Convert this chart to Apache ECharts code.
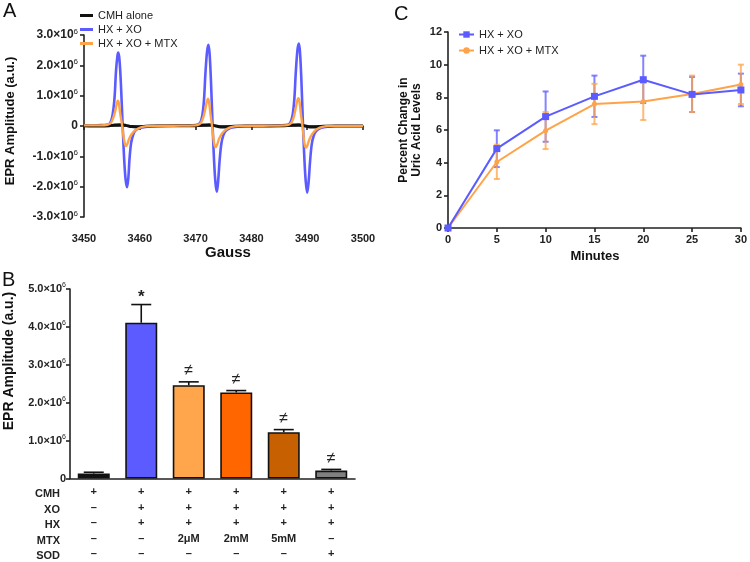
<!DOCTYPE html>
<html><head><meta charset="utf-8">
<script src="https://cdn.jsdelivr.net/npm/echarts@6/dist/echarts.min.js"></script>
<style>html,body{margin:0;padding:0;background:#fff}#c{width:750px;height:562px}</style>
</head><body><div id="c"></div>
<script>
const FONT = '"Liberation Sans", Arial, Helvetica, sans-serif';

// ---------- Panel A: EPR spectra (amplitude in units of 10^6 a.u.) ----------
const specBlue = [
 [3450,0.02],[3451.5,0.01],[3453,0.03],[3454,0.04],[3454.6,0.08],[3455.0,0.25],[3455.3,0.6],[3455.5,1.0],[3455.75,1.85],[3456.0,2.32],[3456.15,2.42],[3456.35,2.2],[3456.6,1.45],[3456.93,0],[3457.2,-1.1],[3457.45,-1.75],[3457.71,-2.02],[3457.95,-1.7],[3458.15,-1.1],[3458.45,-0.55],[3458.8,-0.3],[3459.2,-0.15],[3460,-0.07],[3461,-0.03],[3463,0.0],
 [3465,0.01],[3468,0.02],[3470,0.03],[3470.8,0.1],[3471.2,0.35],[3471.5,0.85],[3471.75,1.7],[3472.05,2.45],[3472.3,2.68],[3472.5,2.4],[3472.75,1.5],[3473.05,0],[3473.3,-1.1],[3473.55,-1.85],[3473.8,-2.17],[3474.05,-1.8],[3474.3,-1.15],[3474.6,-0.6],[3474.95,-0.32],[3475.4,-0.16],[3476.2,-0.07],[3477.2,-0.03],[3479,0.0],
 [3482,0.01],[3485,0.02],[3486.5,0.04],[3487.0,0.12],[3487.4,0.38],[3487.7,0.9],[3487.95,1.75],[3488.25,2.5],[3488.5,2.72],[3488.7,2.45],[3488.95,1.55],[3489.25,0],[3489.5,-1.1],[3489.75,-1.85],[3490.0,-2.2],[3490.25,-1.85],[3490.5,-1.2],[3490.8,-0.62],[3491.15,-0.33],[3491.6,-0.17],[3492.4,-0.07],[3493.4,-0.03],[3495,0.0],[3500,0.0]
];
const specOrange = [
 [3450,0.02],[3453,0.02],[3454.2,0.04],[3454.8,0.1],[3455.2,0.25],[3455.6,0.5],[3455.85,0.72],[3456.05,0.83],[3456.25,0.75],[3456.5,0.4],[3456.85,0],[3457.1,-0.38],[3457.35,-0.6],[3457.55,-0.66],[3457.8,-0.58],[3458.1,-0.42],[3458.5,-0.28],[3459.0,-0.17],[3459.6,-0.09],[3460.5,-0.03],[3462,0.0],
 [3466,0.01],[3470,0.02],[3470.6,0.05],[3471.0,0.12],[3471.4,0.3],[3471.75,0.58],[3472.0,0.8],[3472.2,0.9],[3472.4,0.8],[3472.65,0.42],[3472.95,0],[3473.2,-0.42],[3473.4,-0.64],[3473.6,-0.7],[3473.85,-0.62],[3474.15,-0.45],[3474.55,-0.3],[3475.05,-0.18],[3475.65,-0.09],[3476.5,-0.03],[3478,0.0],
 [3482,0.01],[3486,0.02],[3486.8,0.05],[3487.2,0.12],[3487.6,0.3],[3487.95,0.6],[3488.2,0.82],[3488.4,0.92],[3488.6,0.82],[3488.85,0.43],[3489.15,0],[3489.4,-0.43],[3489.6,-0.66],[3489.8,-0.72],[3490.05,-0.63],[3490.35,-0.46],[3490.75,-0.31],[3491.25,-0.18],[3491.85,-0.09],[3492.7,-0.03],[3494,0.0],[3500,0.0]
];
const specBlack = [
 [3450,0.01],[3453,0.0],[3454.5,0.01],[3455.5,0.03],[3456.5,0.04],[3457.5,0.02],[3458.5,-0.02],[3459.5,-0.03],[3460.5,-0.02],[3462,0.0],[3470,0.01],[3471.5,0.03],[3472.5,0.04],[3473.5,0.01],[3474.5,-0.03],[3475.5,-0.03],[3477,-0.01],[3479,0.0],[3486,0.01],[3487.5,0.03],[3488.5,0.04],[3489.5,0.01],[3490.5,-0.03],[3491.5,-0.03],[3493,-0.01],[3495,0],[3500,0]
];
const specNames = ['CMH alone','HX + XO','HX + XO + MTX'];

// ---------- Panel B: bar chart (units of 10^6 a.u.) ----------
const bCategories = ['CMH','HX+XO','MTX 2μM','MTX 2mM','MTX 5mM','SOD'];
const bValues = [0.13, 4.11, 2.46, 2.27, 1.22, 0.21];
const bErrTop = [0.165, 4.59, 2.55, 2.32, 1.29, 0.24];
const bMarks = ['', '*', '≠', '≠', '≠', '≠'];
const tableRows = ['CMH','XO','HX','MTX','SOD'];
const tableCMH = ['+','+','+','+','+','+'];
const tableXO  = ['–','+','+','+','+','+'];
const tableHX  = ['–','+','+','+','+','+'];
const tableMTX = ['–','–','2μM','2mM','5mM','–'];
const tableSOD = ['–','–','–','–','–','+'];

// ---------- Panel C: uric acid ----------
const minutes = [0,5,10,15,20,25,30];
const cNames = ['HX + XO ','HX + XO + MTX '];
const cBlue   = [0, 4.86, 6.82, 8.06, 9.08, 8.18, 8.45];
const cBlueLo = [0, 3.73, 5.28, 6.80, 7.65, 7.10, 7.45];
const cBlueHi = [0, 5.98, 8.36, 9.33, 10.55, 9.25, 9.45];
const cOrange   = [0, 4.04, 5.96, 7.59, 7.75, 8.20, 8.79];
const cOrangeLo = [0, 3.00, 4.83, 6.36, 6.61, 7.10, 7.59];
const cOrangeHi = [0, 5.10, 7.10, 8.83, 8.90, 9.33, 10.00];

// ---------- styles ----------
const BLUE = '#5b5bff', ORANGE = '#ffa348';
const barColors = ['#111111', '#5b5bff', '#ffa64d', '#ff6600', '#c66000', '#808080'];
const AX = '#222';

function sci(v){
  if (Math.abs(v) < 1e-9) return '{m|0}';
  return '{m|' + v.toFixed(1) + '×10}{s|6}';
}
function richFor(size){
  return {
    m: {fontSize: size, fontWeight: 'bold', fontFamily: FONT, color: AX},
    s: {fontSize: Math.round(size * 0.65), fontFamily: FONT, color: AX, padding: [0,0,Math.round(size*0.6),0]}
  };
}
const axLine = {show: true, lineStyle: {color: AX, width: 1.6}};
const axTick = {show: true, length: 4, lineStyle: {color: AX, width: 1.6}};
const lbl = {fontSize: 11, fontWeight: 'bold', fontFamily: FONT, color: AX};

function errSeries(name, xIdx, lo, hi, color){
  return {
    type: 'custom', name: name + 'err', xAxisIndex: xIdx, yAxisIndex: xIdx, z: 3,
    data: minutes.map((m, i) => [m, lo[i], hi[i]]),
    renderItem(params, api){
      const a = api.coord([api.value(0), api.value(1)]);
      const b = api.coord([api.value(0), api.value(2)]);
      const hw = 3;
      const st = {stroke: color, lineWidth: 2, opacity: 0.75};
      return {type: 'group', children: [
        {type: 'line', shape: {x1: a[0], y1: a[1], x2: b[0], y2: b[1]}, style: st},
        {type: 'line', shape: {x1: a[0]-hw, y1: a[1], x2: a[0]+hw, y2: a[1]}, style: st},
        {type: 'line', shape: {x1: b[0]-hw, y1: b[1], x2: b[0]+hw, y2: b[1]}, style: st}
      ]};
    }
  };
}

const chart = echarts.init(document.getElementById('c'), null, {renderer: 'canvas'});
const option = {
  animation: false,
  backgroundColor: '#fff',
  textStyle: {fontFamily: FONT},
  grid: [
    {left: 84, top: 35, width: 279, height: 182},
    {left: 70, top: 289, width: 285, height: 191},
    {left: 448, top: 32, width: 295, height: 196}
  ],
  xAxis: [
    {gridIndex: 0, type: 'value', min: 3450, max: 3500, interval: 10, offset: 12,
     axisLine: axLine, axisTick: axTick, splitLine: {show: false},
     axisLabel: Object.assign({margin: 4, formatter: v => String(v)}, lbl)},
    {gridIndex: 1, type: 'category', data: bCategories,
     axisLine: axLine, axisTick: {show: false}, splitLine: {show: false},
     axisLabel: Object.assign({}, lbl, {margin: 6, lineHeight: 15.5, interval: 0,
       formatter: (v, i) => [tableCMH[i], tableXO[i], tableHX[i], tableMTX[i], tableSOD[i]].join('\n')})},
    {gridIndex: 2, type: 'value', min: 0, max: 30, interval: 5,
     axisLine: axLine, axisTick: axTick, splitLine: {show: false}, axisLabel: Object.assign({margin: 6}, lbl)}
  ],
  yAxis: [
    {gridIndex: 0, type: 'value', min: -3, max: 3, interval: 1,
     axisLine: axLine, axisTick: axTick, splitLine: {show: false},
     axisLabel: {margin: 6, formatter: sci, rich: richFor(12)}},
    {gridIndex: 1, type: 'value', min: 0, max: 5, interval: 1,
     axisLine: axLine, axisTick: axTick, splitLine: {show: false},
     axisLabel: {margin: 4, formatter: sci, rich: richFor(11)}},
    {gridIndex: 2, type: 'value', min: 0, max: 12, interval: 2,
     axisLine: axLine, axisTick: axTick, splitLine: {show: false}, axisLabel: Object.assign({margin: 6}, lbl)}
  ],
  legend: [
    {data: specNames, orient: 'vertical', left: 80, top: 10, padding: 0, icon: 'rect',
     itemWidth: 13, itemHeight: 3, itemGap: 3,
     textStyle: {fontSize: 11, fontFamily: FONT, color: '#222'}, selectedMode: false},
    {data: cNames, orient: 'vertical', left: 458, top: 29, padding: 0, itemWidth: 15, itemHeight: 8, itemGap: 5,
     textStyle: {fontSize: 11, fontFamily: FONT, color: '#222'}, selectedMode: false}
  ],
  series: [
    {name: specNames[1], type: 'line', xAxisIndex: 0, yAxisIndex: 0, data: specBlue, smooth: 0.35,
     symbol: 'none', lineStyle: {color: BLUE, width: 2.6}, itemStyle: {color: BLUE}, z: 2},
    {name: specNames[0], type: 'line', xAxisIndex: 0, yAxisIndex: 0, data: specBlack, smooth: 0.35,
     symbol: 'none', lineStyle: {color: '#111', width: 3}, itemStyle: {color: '#111'}, z: 3},
    {name: specNames[2], type: 'line', xAxisIndex: 0, yAxisIndex: 0, data: specOrange, smooth: 0.35,
     symbol: 'none', lineStyle: {color: ORANGE, width: 2.4}, itemStyle: {color: ORANGE}, z: 4},

    {type: 'bar', xAxisIndex: 1, yAxisIndex: 1, barWidth: 32,
     data: bValues.map((v, i) => ({value: v, itemStyle: {color: barColors[i]}})),
     itemStyle: {borderColor: '#111', borderWidth: 1.6}, z: 3},
    {type: 'custom', xAxisIndex: 1, yAxisIndex: 1, z: 2,
     data: bValues.map((v, i) => [i, v, bErrTop[i]]),
     renderItem(params, api){
       const a = api.coord([api.value(0), api.value(1)]);
       const b = api.coord([api.value(0), api.value(2)]);
       const hw = 10;
       const st = {stroke: '#111', lineWidth: 1.6};
       const mark = bMarks[params.dataIndex];
       return {type: 'group', children: [
         {type: 'line', shape: {x1: a[0], y1: a[1], x2: b[0], y2: b[1]}, style: st},
         {type: 'line', shape: {x1: b[0]-hw, y1: b[1], x2: b[0]+hw, y2: b[1]}, style: st},
         {type: 'text', style: {text: mark, x: b[0], y: b[1] - (mark === '*' ? 7 : 11),
           align: 'center', verticalAlign: 'middle',
           font: (mark === '*' ? 'bold 17px ' : '16px ') + FONT, fill: '#222'}}
       ]};
     }},

    errSeries('b', 2, cBlueLo, cBlueHi, BLUE),
    errSeries('o', 2, cOrangeLo, cOrangeHi, ORANGE),
    {name: cNames[1], type: 'line', xAxisIndex: 2, yAxisIndex: 2,
     data: minutes.map((m, i) => [m, cOrange[i]]), symbol: 'circle', symbolSize: 5,
     lineStyle: {color: ORANGE, width: 2}, itemStyle: {color: ORANGE}, z: 4},
    {name: cNames[0], type: 'line', xAxisIndex: 2, yAxisIndex: 2,
     data: minutes.map((m, i) => [m, cBlue[i]]), symbol: 'rect', symbolSize: 7,
     lineStyle: {color: BLUE, width: 2}, itemStyle: {color: BLUE}, z: 5}
  ],
  graphic: [
    {type: 'text', left: 3, top: 1, style: {text: 'A', font: '20px ' + FONT, fill: '#111'}},
    {type: 'text', left: 2, top: 270, style: {text: 'B', font: '20px ' + FONT, fill: '#111'}},
    {type: 'text', left: 394, top: 4, style: {text: 'C', font: '20px ' + FONT, fill: '#111'}},
    {type: 'text', x: 10, y: 121, rotation: Math.PI/2,
     style: {text: 'EPR Amplitude (a.u.)', font: 'bold 13px ' + FONT, fill: '#111', align: 'center', verticalAlign: 'middle'}},
    {type: 'text', x: 228, y: 253,
     style: {text: 'Gauss', font: 'bold 15px ' + FONT, fill: '#111', align: 'center', verticalAlign: 'middle'}},
    {type: 'text', x: 9, y: 361, rotation: Math.PI/2,
     style: {text: 'EPR Amplitude (a.u.)', font: 'bold 14px ' + FONT, fill: '#111', align: 'center', verticalAlign: 'middle'}},
    {type: 'text', x: 410, y: 130, rotation: Math.PI/2,
     style: {text: 'Percent Change in\nUric Acid Levels', font: 'bold 12px ' + FONT, fill: '#111', align: 'center', verticalAlign: 'middle', lineHeight: 12.5}},
    {type: 'text', x: 595, y: 256,
     style: {text: 'Minutes', font: 'bold 13px ' + FONT, fill: '#111', align: 'center', verticalAlign: 'middle'}}
  ].concat(tableRows.map((r, i) => ({type: 'text', x: 60, y: 494 + i * 15.5,
     style: {text: r, font: 'bold 11px ' + FONT, fill: '#222', align: 'right', verticalAlign: 'middle'}})))
};
chart.setOption(option);
</script></body></html>
